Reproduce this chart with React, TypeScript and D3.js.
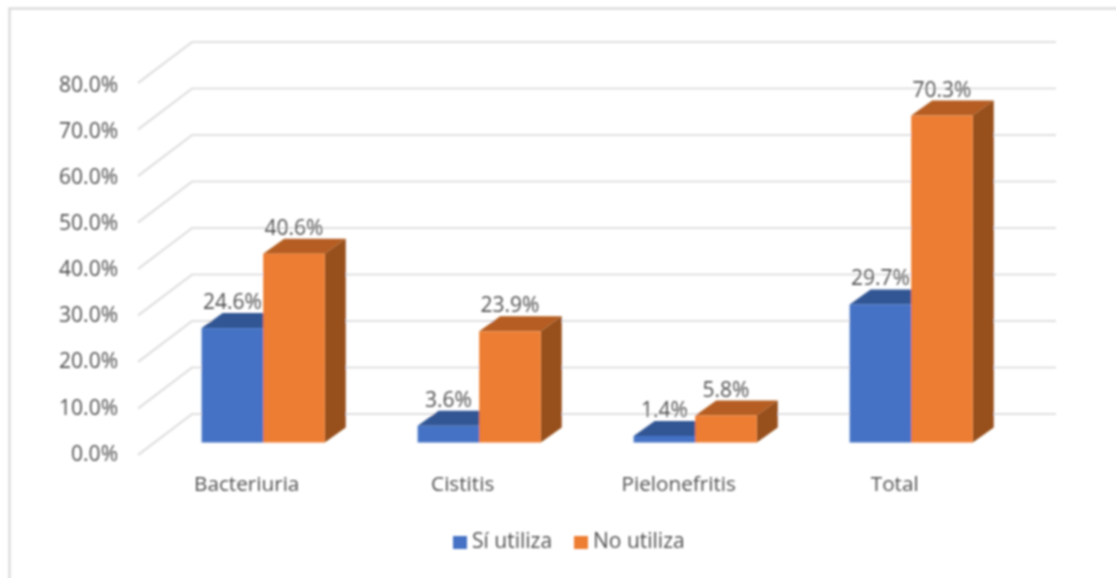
import React, { useEffect, useRef } from 'react';
import * as d3 from 'd3';

const categories = ['Bacteriuria', 'Cistitis', 'Pielonefritis', 'Total'];
const siUtiliza = [24.6, 3.6, 1.4, 29.7];
const noUtiliza = [40.6, 23.9, 5.8, 70.3];
const ticks = [0, 10, 20, 30, 40, 50, 60, 70, 80];
const seriesNames = ['Sí utiliza', 'No utiliza'];

const FONT = '"Open Sans", sans-serif';
const TEXT = '#505050';
const GRID = '#e0e0e0';

const WIDTH = 1116;
const HEIGHT = 578;

const seriesStyle = [
  { front: '#4472c4', top: '#325694', side: '#2f5597' },
  { front: '#ed7d31', top: '#b55d20', side: '#97501b' },
];

export default function App() {
  const box = useRef<SVGSVGElement>(null);

  useEffect(() => {
    const svg = d3.select(box.current);
    svg.selectAll('*').remove();

    const defs = svg.append('defs');
    defs.append('filter')
      .attr('id', 'soft')
      .attr('filterUnits', 'userSpaceOnUse')
      .attr('x', 0).attr('y', 0).attr('width', WIDTH).attr('height', HEIGHT)
      .append('feGaussianBlur')
      .attr('stdDeviation', 0.85);

    const root = svg.append('g').attr('filter', 'url(#soft)');

    // outer chart frame, only left and top show in the picture
    root.append('path')
      .attr('d', `M9.5 ${HEIGHT + 4} V8.5 H${WIDTH + 4}`)
      .attr('fill', 'none')
      .attr('stroke', '#d4d4d4')
      .attr('stroke-width', 2);

    // wall and floor scales
    const yWall = d3.scaleLinear().domain([0, 80]).range([455, 83]);
    const xWall = d3.scaleLinear().domain([0, 1]).range([138, 1002]);
    const depth = { wallX: 54, wallY: -41, barX: 21, barY: -15 };

    const grid = root.append('g');
    ticks.forEach(t => {
      const line = d3.line<[number, number]>();
      grid.append('path')
        .attr('d', line([
          [xWall(0), yWall(t)],
          [xWall(0) + depth.wallX, yWall(t) + depth.wallY],
          [xWall(1) + depth.wallX, yWall(t) + depth.wallY],
        ]))
        .attr('fill', 'none')
        .attr('stroke', GRID)
        .attr('stroke-width', 2.2);
    });

    // y axis labels
    const yLabels = d3.scaleLinear().domain([0, 80]).range([453.5, 84.5]);
    const yAxis = root.append('g')
      .attr('transform', 'translate(118,0)')
      .call(d3.axisLeft(yLabels).tickValues(ticks).tickSize(0).tickPadding(0).tickFormat(d => `${(+d).toFixed(1)}%`));
    yAxis.select('.domain').remove();
    yAxis.selectAll('text')
      .attr('font-family', FONT)
      .attr('font-size', 21)
      .attr('fill', TEXT);

    // bars
    const yBar = d3.scaleLinear().domain([0, 80]).range([442.5, 70.5]);
    const x0 = d3.scaleBand<string>().domain(categories).range([155.2, 1019.2]).paddingInner(0.43).paddingOuter(0.215);
    const x1 = d3.scaleBand<string>().domain(seriesNames).range([0, x0.bandwidth()]);

    const bars = root.append('g');
    const labels: { x: number; y: number; text: string }[] = [];
    categories.forEach((c, i) => {
      [siUtiliza[i], noUtiliza[i]].forEach((v, s) => {
        const style = seriesStyle[s];
        const l = x0(c)! + x1(seriesNames[s])!;
        const r = l + x1.bandwidth();
        const t = yBar(v);
        const b = yBar(0);
        const path = d3.line<[number, number]>();
        bars.append('path')
          .attr('d', path([[l, t], [l + depth.barX, t + depth.barY], [r + depth.barX, t + depth.barY], [r, t]]) + 'Z')
          .attr('fill', style.top);
        bars.append('path')
          .attr('d', path([[r, t], [r + depth.barX, t + depth.barY], [r + depth.barX, b + depth.barY], [r, b]]) + 'Z')
          .attr('fill', style.side);
        bars.append('rect')
          .attr('x', l)
          .attr('y', t)
          .attr('width', r - l)
          .attr('height', b - t)
          .attr('fill', style.front);
        labels.push({ x: (l + r) / 2, y: t - 19, text: `${v.toFixed(1)}%` });
      });
    });

    // data labels
    root.append('g').selectAll('text')
      .data(labels)
      .enter()
      .append('text')
      .attr('x', d => d.x)
      .attr('y', d => d.y)
      .attr('text-anchor', 'middle')
      .attr('font-family', FONT)
      .attr('font-size', 21)
      .attr('fill', TEXT)
      .text(d => d.text);

    // category labels
    const xAxis = root.append('g')
      .attr('transform', 'translate(-16.5,476)')
      .call(d3.axisBottom(x0).tickSize(0).tickPadding(0));
    xAxis.select('.domain').remove();
    xAxis.selectAll('text')
      .attr('font-family', FONT)
      .attr('font-size', 20.7)
      .attr('fill', TEXT);

    // legend
    const legend = root.append('g');
    const legendX = d3.scaleOrdinal<string, number>().domain(seriesNames).range([453, 574]);
    seriesNames.forEach((name, s) => {
      legend.append('rect')
        .attr('x', legendX(name))
        .attr('y', 536)
        .attr('width', 14)
        .attr('height', 13)
        .attr('fill', seriesStyle[s].front);
      legend.append('text')
        .attr('x', legendX(name) + 19)
        .attr('y', 548)
        .attr('font-family', FONT)
        .attr('font-size', 21)
        .attr('fill', TEXT)
        .text(name);
    });
  }, []);

  return (
    <svg
      ref={box}
      width={WIDTH}
      height={HEIGHT}
      style={{ position: 'absolute', left: 0, top: 0, background: '#fff' }}
    />
  );
}
